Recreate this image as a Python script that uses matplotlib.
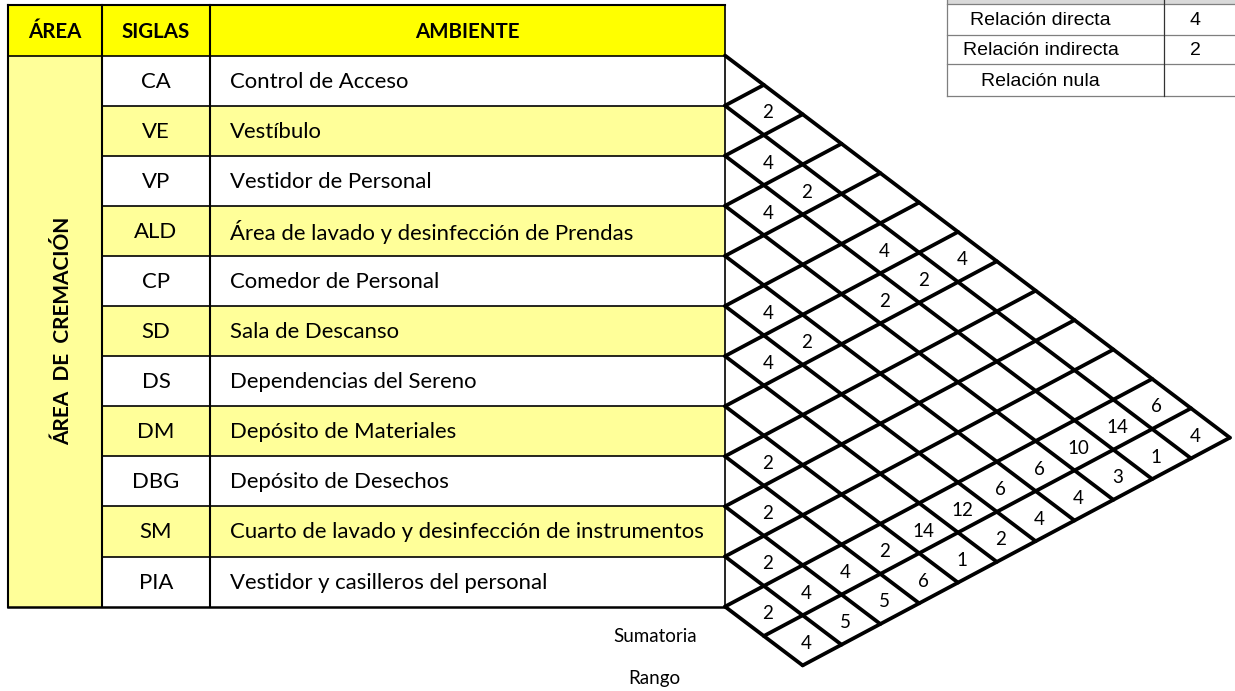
import matplotlib
matplotlib.use("Agg")
import matplotlib.pyplot as plt
from matplotlib.patches import Rectangle

# datos de la matriz de relaciones
siglas = ["CA", "VE", "VP", "ALD", "CP", "SD", "DS", "DM", "DBG", "SM", "PIA"]
ambientes = [
    "Control de Acceso",
    "Vestíbulo",
    "Vestidor de Personal",
    "Área de lavado y desinfección de Prendas",
    "Comedor de Personal",
    "Sala de Descanso",
    "Dependencias del Sereno",
    "Depósito de Materiales",
    "Depósito de Desechos",
    "Cuarto de lavado y desinfección de instrumentos",
    "Vestidor y casilleros del personal",
]
relaciones = [
    ("CA", "VE", 2), ("VE", "VP", 4), ("VE", "ALD", 2), ("VP", "ALD", 4),
    ("VE", "SD", 4), ("CA", "DS", 4), ("VE", "DS", 2), ("VP", "DS", 2),
    ("CP", "SD", 4), ("CP", "DS", 2), ("SD", "DS", 4), ("DM", "DBG", 2),
    ("DBG", "SM", 2), ("SM", "PIA", 2),
]
sumatoria = [6, 14, 10, 6, 6, 12, 14, 2, 4, 4, 2]
rango = [4, 1, 3, 4, 4, 2, 1, 6, 5, 5, 4]
leyenda = [("Relación directa", "4"), ("Relación indirecta", "2"), ("Relación nula", "")]

# geometria (pixeles)
W, H = 1235, 691
x_area, x_sig, x_amb, x_fin = 8, 102, 210, 725
y_head, y0, h = 5, 55.5, 50.1
a, b = 0.757, 0.533  # pendientes de las diagonales

AMARILLO = "#FFFF00"
AMARILLO_CLARO = "#FFFF99"
fuente = "Lato"
fs_tabla = 15.9

fig = plt.figure(figsize=(W / 100, H / 100), dpi=100)
ax = fig.add_axes([0, 0, 1, 1])
ax.set_xlim(0, W)
ax.set_ylim(H, 0)
ax.axis("off")

n = len(siglas)
filas = [y0 + h * k for k in range(n + 3)]

# encabezado
ax.add_patch(Rectangle((x_area, y_head), x_fin - x_area, y0 - y_head, fc=AMARILLO, ec="none"))
for x1, x2, txt in [(x_area, x_sig, "ÁREA"), (x_sig, x_amb, "SIGLAS"), (x_amb, x_fin, "AMBIENTE")]:
    ax.text((x1 + x2) / 2, (y_head + y0) / 2 + 2, txt, ha="center", va="center",
            fontsize=14.8, fontweight="bold", family=fuente)

# columna area
ax.add_patch(Rectangle((x_area, y0), x_sig - x_area, filas[n] - y0, fc=AMARILLO_CLARO, ec="none"))
ax.text(63, (y0 + filas[n]) / 2, "ÁREA  DE  CREMACIÓN", rotation=90, ha="center", va="center",
        fontsize=15, fontweight="bold", family=fuente)

for i in range(n):
    color = AMARILLO_CLARO if i % 2 == 1 else "white"
    ax.add_patch(Rectangle((x_sig, filas[i]), x_fin - x_sig, h, fc=color, ec="none"))
    yc = filas[i] + h / 2 + 1
    ax.text((x_sig + x_amb) / 2, yc, siglas[i], ha="center", va="center", fontsize=fs_tabla, family=fuente)
    ax.text(x_amb + 20, yc, ambientes[i], ha="left", va="center", fontsize=fs_tabla, family=fuente)
    ax.plot([x_sig, x_fin], [filas[i], filas[i]], color="black", lw=1.2)

# bordes de la tabla
ax.plot([x_area, x_fin], [y_head, y_head], color="black", lw=1.5)
ax.plot([x_area, x_fin], [filas[n], filas[n]], color="black", lw=1.8)
ax.plot([x_area, x_sig], [y0, y0], color="black", lw=1.2)
for x in [x_area, x_sig, x_amb]:
    ax.plot([x, x], [y_head, filas[n]], color="black", lw=1.5)
ax.plot([x_fin, x_fin], [y_head, filas[n]], color="black", lw=1.2)

# rejilla diagonal
s = a + b
lw_grid = 2.7
for k in range(n + 1):
    dx = (filas[n + 2] - filas[k]) / s
    ax.plot([x_fin, x_fin + dx], [filas[k], filas[k] + a * dx], color="black", lw=lw_grid,
            solid_capstyle="round")
for k in range(1, n + 3):
    dx_ini = max(0, (filas[k] - filas[n]) / s)
    dx_fin = (filas[k] - filas[0]) / s
    ax.plot([x_fin + dx_ini, x_fin + dx_fin], [filas[k] - b * dx_ini, filas[k] - b * dx_fin],
            color="black", lw=lw_grid, solid_capstyle="round")


def celda(i, j):
    ci = filas[i] + h / 2
    cj = filas[j] + h / 2
    dx = (cj - ci) / s
    return x_fin + dx + 4, ci + a * dx + 3


fs_num = 13.5
for s1, s2, v in relaciones:
    x, y = celda(siglas.index(s1), siglas.index(s2))
    ax.text(x, y, str(v), ha="center", va="center", fontsize=fs_num, family=fuente)
for i in range(n):
    x, y = celda(i, n)
    ax.text(x, y, str(sumatoria[i]), ha="center", va="center", fontsize=fs_num, family=fuente)
    x, y = celda(i, n + 1)
    ax.text(x, y, str(rango[i]), ha="center", va="center", fontsize=fs_num, family=fuente)

ax.text(655, filas[n] + h / 2 + 5, "Sumatoria", ha="center", va="center", fontsize=13.5, family=fuente)
ax.text(654, filas[n + 1] + h / 2 - 3, "Rango", ha="center", va="center", fontsize=13.5, family=fuente)

# leyenda
lx1, lx2, lx3 = 947, 1164, 1240
ly = [4, 35, 64, 96]
ax.add_patch(Rectangle((lx1, -2), lx3 - lx1, ly[0] + 2, fc="#D9D9D9", ec="none"))
for y in ly:
    ax.plot([lx1, lx3], [y, y], color="#7F7F7F", lw=0.9)
ax.plot([lx1, lx1], [0, ly[-1]], color="#7F7F7F", lw=0.9)
ax.plot([lx2, lx2], [0, ly[-1]], color="#333333", lw=0.9)
for k, (txt, val) in enumerate(leyenda):
    yc = (ly[k] + ly[k + 1]) / 2 + 1
    ax.text((lx1 + lx2) / 2 - 15, yc, txt, ha="center", va="center", fontsize=14,
            family=["Liberation Sans Narrow", "Liberation Sans"])
    ax.text(1195, yc, val, ha="center", va="center", fontsize=14,
            family=["Liberation Sans Narrow", "Liberation Sans"])

fig.savefig("out.png", dpi=100)
